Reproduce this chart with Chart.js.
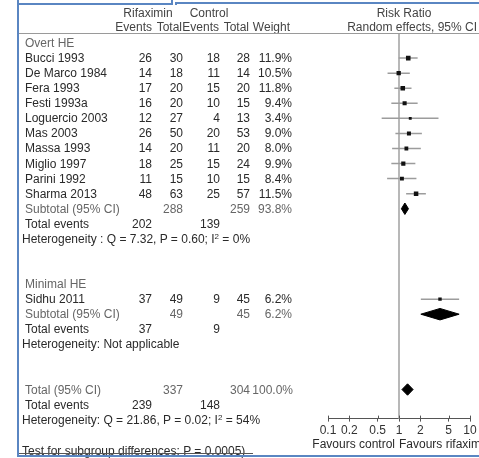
<!DOCTYPE html>
<html lang="en">
<head>
<meta charset="UTF-8">
<title>Rifaximin vs control - risk ratio</title>
<script src="https://cdn.jsdelivr.net/npm/chart.js@4"></script>
<style>
  body {
    margin: 0;
    width: 479px;
    height: 458px;
    overflow: hidden;
    position: relative;
    background: #fff;
    font-family: "Liberation Sans", Arial, sans-serif;
    font-size: 12px;
    color: #2a2a2a;
  }
  canvas { position: absolute; left: 0; top: 0; }
  .t { position: absolute; white-space: nowrap; line-height: 16px; height: 16px; }
  .soft { color: #666; }
  .head { color: #444; }
  .rule { position: absolute; }
  .blue { position: absolute; background: #5a86c2; }
  sup { font-size: 8px; line-height: 0; vertical-align: 4px; }
</style>
</head>
<body>
<canvas id="forest" width="479" height="458"></canvas>
<div id="labels"></div>
<script>
// ---- data ----
const overtStudies = ['Bucci 1993', 'De Marco 1984', 'Fera 1993', 'Festi 1993a', 'Loguercio 2003',
                      'Mas 2003', 'Massa 1993', 'Miglio 1997', 'Parini 1992', 'Sharma 2013'];
const overtRifEvents = [26, 14, 17, 16, 12, 26, 14, 18, 11, 48];
const overtRifTotal  = [30, 18, 20, 20, 27, 50, 20, 25, 15, 63];
const overtCtlEvents = [18, 11, 15, 10, 4, 20, 11, 15, 10, 25];
const overtCtlTotal  = [28, 14, 20, 15, 13, 53, 20, 24, 15, 57];
const overtWeight    = [11.9, 10.5, 11.8, 9.4, 3.4, 9.0, 8.0, 9.9, 8.4, 11.5];
const overtRR        = [1.35, 0.99, 1.13, 1.20, 1.44, 1.38, 1.27, 1.15, 1.10, 1.74];
const overtLow       = [0.99, 0.69, 0.86, 0.78, 0.57, 0.89, 0.80, 0.78, 0.68, 1.26];
const overtHigh      = [1.83, 1.42, 1.50, 1.83, 3.60, 2.10, 2.03, 1.70, 1.76, 2.39];

const minimalStudies = ['Sidhu 2011'];
const minimalRifEvents = [37];
const minimalRifTotal  = [49];
const minimalCtlEvents = [9];
const minimalCtlTotal  = [45];
const minimalWeight    = [6.2];
const minimalRR        = [3.78];
const minimalLow       = [2.03];
const minimalHigh      = [7.03];

const subgroupNames     = ['Overt HE', 'Minimal HE'];
const subtotalRifTotal  = [288, 49];
const subtotalCtlTotal  = [259, 45];
const subtotalWeight    = [93.8, 6.2];
const subtotalRR        = [1.21, 3.78];
const subtotalLow       = [1.08, 2.03];
const subtotalHigh      = [1.36, 7.03];
const subtotalRifEvents = [202, 37];
const subtotalCtlEvents = [139, 9];
const subgroupHet = ['Heterogeneity : Q = 7.32, P = 0.60; I<sup>2</sup> = 0%',
                     'Heterogeneity: Not applicable'];

const overallRifTotal = 337;
const overallCtlTotal = 304;
const overallWeight = 100.0;
const overallRR = 1.32;
const overallLow = 1.10;
const overallHigh = 1.58;
const overallRifEvents = 239;
const overallCtlEvents = 148;
const overallHet = 'Heterogeneity: Q = 21.86, P = 0.02; I<sup>2</sup> = 54%';
const subgroupTest = 'Test for subgroup differences: P = 0.0005)';

const xTicks = [0.1, 0.2, 0.5, 1, 2, 5, 10];

// ---- layout (row index on the y scale, 1 row = 1 unit) ----
const groups = [
    { name: subgroupNames[0], start: 0, studies: overtStudies, rifE: overtRifEvents, rifT: overtRifTotal,
      ctlE: overtCtlEvents, ctlT: overtCtlTotal, w: overtWeight, rr: overtRR, lo: overtLow, hi: overtHigh },
    { name: subgroupNames[1], start: 16, studies: minimalStudies, rifE: minimalRifEvents, rifT: minimalRifTotal,
      ctlE: minimalCtlEvents, ctlT: minimalCtlTotal, w: minimalWeight, rr: minimalRR, lo: minimalLow, hi: minimalHigh }
];
const TOTAL_ROW = 23;
const DIAMOND_HALF = 0.38;
const FONT = '"Liberation Sans", Arial, sans-serif';

const datasets = [];
const points = [];
const pointSizes = [];
groups.forEach((g, gi) => {
    g.studies.forEach((s, i) => {
        const row = g.start + 1 + i;
        points.push({ x: g.rr[i], y: row });
        pointSizes.push((2.2 + g.w[i] * 0.2) / Math.SQRT2);
        datasets.push({
            type: 'line',
            data: [{ x: g.lo[i], y: row }, { x: g.hi[i], y: row }],
            borderColor: '#9c9c9c',
            borderWidth: 1.5,
            pointRadius: 0
        });
    });
});

function diamond(est, lo, hi, row) {
    return {
        type: 'line',
        data: [
            { x: lo, y: row }, { x: est, y: row - DIAMOND_HALF },
            { x: hi, y: row }, { x: est, y: row + DIAMOND_HALF }, { x: lo, y: row }
        ],
        borderColor: '#000',
        backgroundColor: '#000',
        borderWidth: 1,
        fill: 'shape',
        pointRadius: 0,
        tension: 0
    };
}
groups.forEach((g, gi) => {
    datasets.push(diamond(subtotalRR[gi], subtotalLow[gi], subtotalHigh[gi], g.start + 1 + g.studies.length));
});
datasets.push(diamond(overallRR, overallLow, overallHigh, TOTAL_ROW));

datasets.unshift({
    type: 'scatter',
    data: points,
    pointStyle: 'rect',
    pointRadius: pointSizes,
    backgroundColor: '#111',
    borderColor: '#111',
    borderWidth: 0
});

const extras = {
    id: 'extras',
    beforeDatasetsDraw(chart) {
        const { ctx, chartArea, scales: { x } } = chart;
        const px = x.getPixelForValue(1);
        ctx.save();
        ctx.strokeStyle = '#b8b8b8';
        ctx.lineWidth = 2;
        ctx.beginPath();
        ctx.moveTo(px, chartArea.top);
        ctx.lineTo(px, chartArea.bottom);
        ctx.stroke();
        ctx.restore();
    },
    afterDraw(chart) {
        // small tick stubs above the axis line
        const { ctx, chartArea, scales: { x } } = chart;
        ctx.save();
        ctx.strokeStyle = '#555';
        ctx.lineWidth = 1;
        xTicks.forEach(v => {
            const px = Math.round(x.getPixelForValue(v)) + 0.5;
            ctx.beginPath();
            ctx.moveTo(px, chartArea.bottom - 3);
            ctx.lineTo(px, chartArea.bottom);
            ctx.stroke();
        });
        ctx.restore();
    }
};

const chart = new Chart(document.getElementById('forest'), {
    type: 'scatter',
    data: { datasets: datasets },
    options: {
        responsive: false,
        animation: false,
        events: [],
        layout: { padding: { left: 328, right: 9, top: 34, bottom: 18 } },
        plugins: { legend: { display: false }, tooltip: { enabled: false } },
        scales: {
            x: {
                type: 'logarithmic',
                min: 0.1,
                max: 10,
                afterBuildTicks: s => { s.ticks = xTicks.map(v => ({ value: v })); },
                ticks: {
                    autoSkip: false, maxRotation: 0, padding: 2, color: '#333',
                    font: { family: FONT, size: 12 },
                    callback: v => String(v)
                },
                grid: { drawOnChartArea: false, tickLength: 3, color: '#555' },
                border: { color: '#555', width: 1 }
            },
            y: { type: 'linear', min: -0.6, max: 24.93, reverse: true, display: false }
        }
    },
    plugins: [extras]
});

// ---- table text, placed on the chart's own row scale ----
const box = document.getElementById('labels');
function put(html, x, y, align, cls) {
    const d = document.createElement('div');
    d.className = 't' + (cls ? ' ' + cls : '');
    d.innerHTML = html;
    d.style.top = (y - 8) + 'px';
    if (align === 'right') d.style.right = (479 - x) + 'px';
    else if (align === 'center') { d.style.left = (x - 100) + 'px'; d.style.width = '200px'; d.style.textAlign = 'center'; }
    else d.style.left = x + 'px';
    box.appendChild(d);
}
function rule(x, y, w, h, color, cls) {
    const d = document.createElement('div');
    d.className = cls || 'rule';
    d.style.left = x + 'px'; d.style.top = y + 'px';
    d.style.width = w + 'px'; d.style.height = h + 'px';
    if (color) d.style.background = color;
    box.appendChild(d);
}
const Y = r => chart.scales.y.getPixelForValue(r);
const COL = { label: 25, het: 22, rifE: 152, rifT: 183, ctlE: 220, ctlT: 250, w: 292 };

// header
put('Rifaximin', 148, 13, 'center', 'head');
put('Control', 209, 13, 'center', 'head');
put('Risk Ratio', 404, 13, 'center', 'head');
put('Events', 152, 27, 'right', 'head');
put('Total', 182, 27, 'right', 'head');
put('Events', 219, 27, 'right', 'head');
put('Total', 249, 27, 'right', 'head');
put('Weight', 290, 27, 'right', 'head');
put('Random effects, 95% CI', 477, 27, 'right', 'head');

groups.forEach((g, gi) => {
    put(g.name, COL.label, Y(g.start), 'left', 'soft');
    g.studies.forEach((s, i) => {
        const y = Y(g.start + 1 + i);
        put(s, COL.label, y);
        put(g.rifE[i], COL.rifE, y, 'right');
        put(g.rifT[i], COL.rifT, y, 'right');
        put(g.ctlE[i], COL.ctlE, y, 'right');
        put(g.ctlT[i], COL.ctlT, y, 'right');
        put(g.w[i].toFixed(1) + '%', COL.w, y, 'right');
    });
    const sub = g.start + 1 + g.studies.length;
    put('Subtotal (95% CI)', COL.label, Y(sub), 'left', 'soft');
    put(subtotalRifTotal[gi], COL.rifT, Y(sub), 'right', 'soft');
    put(subtotalCtlTotal[gi], COL.ctlT, Y(sub), 'right', 'soft');
    put(subtotalWeight[gi].toFixed(1) + '%', COL.w, Y(sub), 'right', 'soft');
    put('Total events', COL.label, Y(sub + 1));
    put(subtotalRifEvents[gi], COL.rifE, Y(sub + 1), 'right');
    put(subtotalCtlEvents[gi], COL.ctlE, Y(sub + 1), 'right');
    put(subgroupHet[gi], COL.het, Y(sub + 2));
});

put('Total (95% CI)', COL.label, Y(TOTAL_ROW), 'left', 'soft');
put(overallRifTotal, COL.rifT, Y(TOTAL_ROW), 'right', 'soft');
put(overallCtlTotal, COL.ctlT, Y(TOTAL_ROW), 'right', 'soft');
put(overallWeight.toFixed(1) + '%', COL.w + 1, Y(TOTAL_ROW), 'right', 'soft');
put('Total events', COL.label, Y(TOTAL_ROW + 1));
put(overallRifEvents, COL.rifE, Y(TOTAL_ROW + 1), 'right');
put(overallCtlEvents, COL.ctlE, Y(TOTAL_ROW + 1), 'right');
put(overallHet, COL.het, Y(TOTAL_ROW + 2));
put(subgroupTest, COL.het, Y(TOTAL_ROW + 4.1));

const one = chart.scales.x.getPixelForValue(1);
put('Favours control', one - 4, 444, 'right');
put('Favours rifaximin', one, 444, 'left');

// rules and frame
rule(19, 33, 460, 1, '#9a9a9a');
rule(19, 453, 234, 1, '#555');
rule(17, 0, 2, 457, null, 'blue');
rule(17, 455, 462, 2, null, 'blue');
rule(17, 3, 156, 2, null, 'blue');
rule(171, 0, 2, 4, null, 'blue');
rule(175, 2, 304, 2, null, 'blue');
rule(175, 2, 2, 3, null, 'blue');
</script>
</body>
</html>
